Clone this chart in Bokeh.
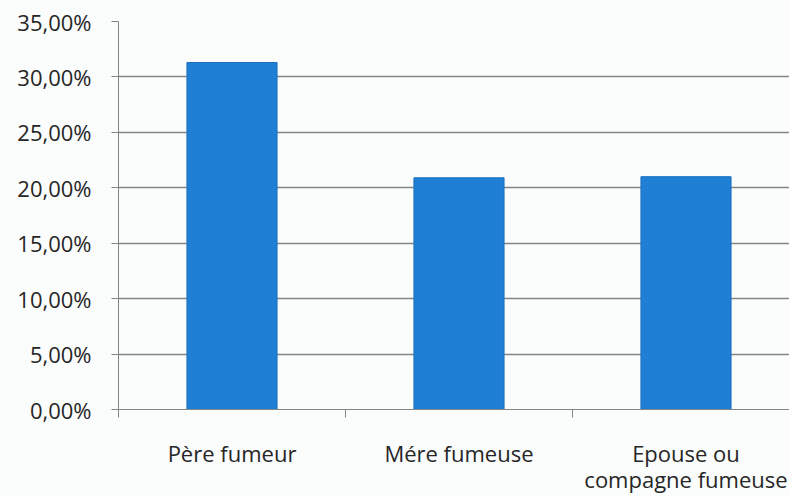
from bokeh.plotting import figure
from bokeh.models import Range1d, FixedTicker, CustomJSTickFormatter, ColumnDataSource
from bokeh.embed import file_html
from bokeh.resources import INLINE

categories = ["Père fumeur", "Mére fumeuse", "Epouse ou\ncompagne fumeuse"]
values = [31.3, 20.9, 21.0]
y_ticks = [0, 5, 10, 15, 20, 25, 30, 35]

x_pos = [i + 0.5 for i in range(len(categories))]
boundaries = [i for i in range(len(categories) + 1)]
src = ColumnDataSource(dict(x=x_pos, top=values))

BG = "#fbfcfc"
GRID = "#858585"
TXT = "#262626"
p = figure(width=789, height=496, output_backend="svg", toolbar_location=None,
           x_range=Range1d(0, 2.956), y_range=Range1d(0, 35),
           min_border_left=118, min_border_right=0, min_border_top=21,
           min_border_bottom=85, background_fill_color=BG, border_fill_color=BG)
p.outline_line_color = None

p.vbar(x="x", top="top", width=0.397, source=src,
       fill_color="#1f7fd4", line_color="#1a70c0", line_width=1)

font = "Open Sans"
# y axis
p.yaxis.ticker = FixedTicker(ticks=y_ticks)
p.yaxis.formatter = CustomJSTickFormatter(code="return tick.toFixed(2).replace('.', ',') + '%';")
p.yaxis.major_tick_out = 7
p.yaxis.major_tick_in = 0
p.yaxis.minor_tick_out = 0
p.yaxis.minor_tick_in = 0
p.yaxis.major_label_standoff = 20
p.yaxis.axis_line_color = GRID
p.yaxis.major_tick_line_color = GRID
p.yaxis.major_label_text_font = font
p.yaxis.major_label_text_font_size = "22px"
p.yaxis.major_label_text_color = TXT

# x axis
p.xaxis.ticker = FixedTicker(ticks=x_pos, minor_ticks=boundaries)
p.xaxis.major_label_overrides = {x: c for x, c in zip(x_pos, categories)}
p.xaxis.major_tick_out = 0
p.xaxis.major_tick_in = 0
p.xaxis.minor_tick_out = 8
p.xaxis.minor_tick_in = 0
p.xaxis.minor_tick_line_color = GRID
p.xaxis.axis_line_color = GRID
p.xaxis.major_label_standoff = 20
p.xaxis.major_label_text_font = font
p.xaxis.major_label_text_font_size = "22px"
p.xaxis.major_label_text_line_height = 0.87
p.xaxis.major_label_text_color = TXT

p.xgrid.visible = False
p.ygrid.ticker = FixedTicker(ticks=y_ticks)
p.ygrid.grid_line_color = GRID
p.ygrid.grid_line_width = 1.5

open("out.html", "w").write(file_html(p, INLINE))
